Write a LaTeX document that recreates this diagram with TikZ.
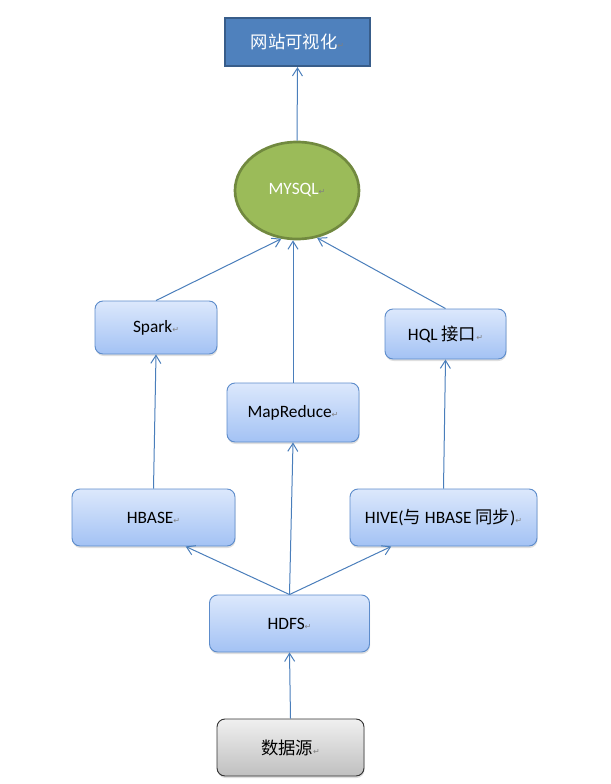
\documentclass[tikz,border=0pt]{standalone}
\usepackage{fontspec}
\setmainfont{Carlito}
\newfontfamily\cjk{Noto Sans CJK SC}
\newfontfamily\dv{DejaVu Sans}
\usetikzlibrary{arrows.meta,shapes.geometric,shadows}
\definecolor{lineblue}{HTML}{4A7EBB}
\definecolor{boxtop}{HTML}{DCE8FC}
\definecolor{boxbot}{HTML}{A3C2F4}
\definecolor{boxborder}{HTML}{5D8CCB}
\definecolor{webfill}{HTML}{4F81BD}
\definecolor{webborder}{HTML}{385D8A}
\definecolor{sqlfill}{HTML}{9BBB59}
\definecolor{sqlborder}{HTML}{71893F}
\newcommand{\parmark}{{\dv\fontsize{6}{6}\selectfont\color{gray}↵}}
\tikzset{
  bluebox/.style={rectangle, rounded corners=6pt, draw=boxborder, line width=0.7pt,
    top color=boxtop, bottom color=boxbot, font=\fontsize{13}{15}\selectfont,
    drop shadow={shadow xshift=0.4pt, shadow yshift=-1.5pt, opacity=0.25}},
  graybox/.style={rectangle, rounded corners=6pt, draw=black!80, line width=0.7pt,
    top color=black!6, bottom color=black!25, font=\fontsize{13}{15}\selectfont,
    drop shadow={shadow xshift=0.4pt, shadow yshift=-1.5pt, opacity=0.25}},
  webbox/.style={rectangle, fill=webfill, draw=webborder, line width=1.6pt,
    text=white, font=\fontsize{13}{15}\selectfont},
  sqlnode/.style={ellipse, fill=sqlfill, draw=sqlborder, line width=2pt,
    text=white, font=\fontsize{13}{15}\selectfont},
  conn/.style={draw=lineblue, line width=0.75pt, -{Straight Barb[length=6pt,width=7.5pt]}}
}
\begin{document}
\begin{tikzpicture}[x=0.75pt,y=-0.75pt]
\useasboundingbox (0,0) rectangle (610,784);
\node[webbox, minimum width=108.75pt, minimum height=36pt] (web) at (297.5,42) {\cjk 网站可视化\parmark};
\node[sqlnode, minimum width=93pt, minimum height=72.75pt, inner sep=0pt] (mysql) at (297,190.5) {MYSQL\parmark};
\node[bluebox, minimum width=91.5pt, minimum height=39.75pt] (spark) at (156,327.5) {Spark\parmark};
\node[bluebox, minimum width=90.75pt, minimum height=37.5pt] (hql) at (445.5,334) {HQL {\cjk 接口}\parmark};
\node[bluebox, minimum width=99pt, minimum height=44.25pt] (mr) at (293,412.5) {MapReduce\parmark};
\node[bluebox, minimum width=122.25pt, minimum height=42.75pt] (hbase) at (153.5,517.5) {HBASE\parmark};
\node[bluebox, minimum width=140.25pt, minimum height=42.75pt] (hive) at (443.5,517.5) {HIVE({\cjk 与} HBASE {\cjk 同步})\parmark};
\node[bluebox, minimum width=120pt, minimum height=42.75pt] (hdfs) at (289.5,623.5) {HDFS\parmark};
\node[graybox, minimum width=110.25pt, minimum height=42.75pt] (src) at (290.5,747.5) {\cjk 数据源\parmark};

\draw[conn] (mysql.north) -- (web.south);
\draw[conn] (spark.north) -- (mysql.252);
\draw[conn] (mr.north) -- (mr.north |- mysql.south);
\draw[conn] (hql.north) -- (mysql.293);
\draw[conn] (hbase.north) -- (spark.south);
\draw[conn] (hive.north) -- (hql.south);
\draw[conn] (hdfs.north) -- (hbase.-42);
\draw[conn] (hdfs.north) -- (mr.south);
\draw[conn] (hdfs.north) -- (hive.209);
\draw[conn] (src.north) -- (hdfs.south);
\end{tikzpicture}
\end{document}
